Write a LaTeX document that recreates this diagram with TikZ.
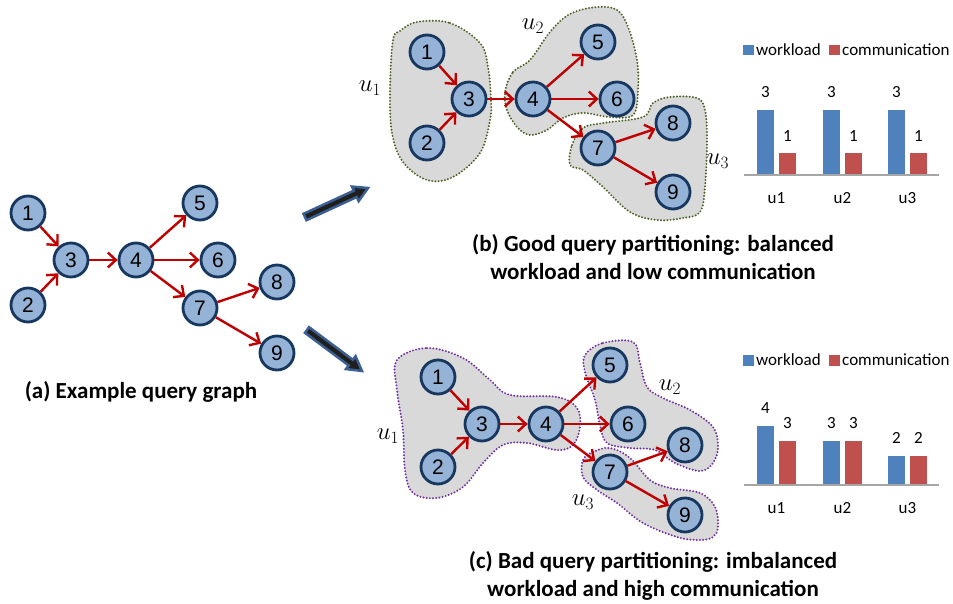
\documentclass[tikz,border=0pt]{standalone}
\usepackage{fontspec}
\setmainfont{Carlito}
\newfontfamily\numfont{Liberation Sans}
\usetikzlibrary{arrows.meta,calc}

\definecolor{nodefill}{RGB}{149,179,215}
\definecolor{nodeline}{RGB}{23,55,94}
\definecolor{edgered}{RGB}{192,0,0}
\definecolor{blobgray}{RGB}{217,217,217}
\definecolor{blobolive}{RGB}{79,98,40}
\definecolor{blobviolet}{RGB}{112,48,160}
\definecolor{barblue}{RGB}{79,129,189}
\definecolor{barred}{RGB}{192,80,77}
\definecolor{arrowblue}{RGB}{59,95,145}
\definecolor{axisgray}{RGB}{166,166,166}

\tikzset{
  qnode/.style={circle, draw=nodeline, fill=nodefill, line width=2.8pt,
    minimum size=34pt, inner sep=0pt, font=\numfont\fontsize{21}{21}\selectfont},
  qedge/.style={draw=edgered, line width=2.4pt,
    -{Straight Barb[length=8pt,width=15pt]}},
  blobline/.style={fill=blobgray, line width=2.2pt, line cap=round,
    dash pattern=on 0pt off 3.2pt},
  partlabel/.style={font=\fontsize{24}{24}\selectfont},
  caption/.style={font=\bfseries\fontsize{23}{28}\selectfont, align=center},
  chartfont/.style={font=\fontsize{17}{17}\selectfont},
  fatarrow/.style={fill=black!88, draw=arrowblue, line width=2.5pt, line join=miter},
  axisline/.style={draw=axisgray, line width=1.5pt},
}

% edges shared by every copy of the query graph
\newcommand\queryedges[1]{%
  \draw[qedge] (#11) -- (#13);
  \draw[qedge] (#12) -- (#13);
  \draw[qedge] (#13) -- (#14);
  \draw[qedge] (#14) -- (#15);
  \draw[qedge] (#14) -- (#16);
  \draw[qedge] (#14) -- (#17);
  \draw[qedge] (#17) -- (#18);
  \draw[qedge] (#17) -- (#19);
}

% broad outlined arrow from tail #1 to tip #2 (coordinate names)
\newcommand\broadarrow[2]{%
  \coordinate (#2m) at ($(#2)!14pt!(#1)$);
  \draw[fatarrow]
    ($(#1)!3.5pt!90:(#2)$) -- ($(#2m)!3.5pt!90:(#2)$) --
    ($(#2m)!8pt!90:(#2)$) -- (#2) -- ($(#2m)!8pt!-90:(#2)$) --
    ($(#2m)!3.5pt!-90:(#2)$) -- ($(#1)!3.5pt!-90:(#2)$) -- cycle;
}

\begin{document}
\begin{tikzpicture}[x=1pt,y=-1pt]
\path[use as bounding box] (0,0) rectangle (953,604);

%% ---------- (a) the query graph ----------
\node[qnode] (a1) at (28,213) {1};
\node[qnode] (a2) at (28,305) {2};
\node[qnode] (a3) at (71,260) {3};
\node[qnode] (a4) at (136,260) {4};
\node[qnode] (a5) at (200,203) {5};
\node[qnode] (a6) at (218,260) {6};
\node[qnode] (a7) at (200,308) {7};
\node[qnode] (a8) at (277,282) {8};
\node[qnode] (a9) at (277,353) {9};
\queryedges{a}
\node[caption] (capa) at (141,392) {(a) Example query graph};

%% ---------- arrows to the two partitionings ----------
\coordinate (t1) at (305,217);
\coordinate (h1) at (368,188);
\coordinate (t2) at (307,330);
\coordinate (h2) at (362,371);
\broadarrow{t1}{h1}
\broadarrow{t2}{h2}

%% ---------- (b) good partitioning ----------
\path[blobline, draw=blobolive] plot[smooth cycle, tension=0.6] coordinates {
  (417,22) (450,23) (480,43) (488,67) (491,100) (490,120) (480,153)
  (453,177) (427,180) (403,162) (392,133) (390,90) (393,40) (400,31)};
\path[blobline, draw=blobolive] plot[smooth cycle, tension=0.6] coordinates {
  (505,92) (513,72) (530,60) (550,32) (570,14) (597,7) (617,10) (628,27)
  (637,60) (638,90) (633,115) (610,117) (583,113) (563,118) (547,130)
  (530,135) (517,127) (507,110)};
\path[blobline, draw=blobolive] plot[smooth cycle, tension=0.6] coordinates {
  (570,165) (572,145) (583,128) (603,123) (643,117) (653,103) (670,97)
  (697,98) (705,110) (707,140) (705,187) (700,212) (683,218) (657,220)
  (630,212) (603,187) (583,170)};

\node[qnode] (b1) at (427,52) {1};
\node[qnode] (b2) at (427,143) {2};
\node[qnode] (b3) at (469,99) {3};
\node[qnode] (b4) at (533,99) {4};
\node[qnode] (b5) at (598,42) {5};
\node[qnode] (b6) at (617,99) {6};
\node[qnode] (b7) at (598,148) {7};
\node[qnode] (b8) at (673,123) {8};
\node[qnode] (b9) at (673,192) {9};
\queryedges{b}

\node[partlabel] (bu1) at (370,88) {$u_1$};
\node[partlabel] (bu2) at (533,26) {$u_2$};
\node[partlabel] (bu3) at (718,161) {$u_3$};

\node[caption] (capb) at (653,257) {(b) Good query partitioning: balanced\\workload and low communication};

%% ---------- (c) bad partitioning ----------
\path[blobline, draw=blobviolet] plot[smooth cycle, tension=0.6] coordinates {
  (397,360) (427,348) (463,358) (490,380) (510,395) (557,397) (577,408)
  (580,427) (573,445) (557,450) (527,443) (503,445) (483,463) (463,487)
  (437,498) (413,493) (405,470) (403,430) (397,390)};
\path[blobline, draw=blobviolet] plot[smooth cycle, tension=0.6] coordinates {
  (585,355) (603,343) (633,342) (640,363) (647,387) (663,398) (690,410)
  (713,427) (718,447) (713,463) (700,471) (675,463) (655,450) (630,448)
  (607,443) (600,425) (595,400) (585,372)};
\path[blobline, draw=blobviolet] plot[smooth cycle, tension=0.6] coordinates {
  (583,460) (593,452) (610,448) (630,458) (650,480) (670,488) (700,493)
  (715,507) (718,527) (713,537) (700,540) (677,537) (643,523) (617,503)
  (597,490) (583,477)};

\node[qnode] (c1) at (438,377) {1};
\node[qnode] (c2) at (438,467) {2};
\node[qnode] (c3) at (482,424) {3};
\node[qnode] (c4) at (546,424) {4};
\node[qnode] (c5) at (610,365) {5};
\node[qnode] (c6) at (628,424) {6};
\node[qnode] (c7) at (610,472) {7};
\node[qnode] (c8) at (685,445) {8};
\node[qnode] (c9) at (685,515) {9};
\queryedges{c}

\node[partlabel] (cu1) at (388,436) {$u_1$};
\node[partlabel] (cu2) at (670,387) {$u_2$};
\node[partlabel] (cu3) at (583,502) {$u_3$};

\node[caption] (capc) at (653,576) {(c) Bad query partitioning: imbalanced\\workload and high communication};

%% ---------- bar chart for (b) ----------
\begin{scope}[chartfont]
  \fill[barblue] (743,45) rectangle ++(10.5,10.5);
  \node[anchor=west, inner sep=0pt] (lbw) at (756,50) {workload};
  \fill[barred] (829,45) rectangle ++(10.5,10.5);
  \node[anchor=west, inner sep=0pt] (lbc) at (842,50) {communication};
  \foreach \x/\w/\c [count=\i] in {757/3/1, 823/3/1, 888/3/1} {
    \fill[barblue] (\x,175) rectangle ++(17,-21.7*\w);
    \fill[barred] (\x+22,175) rectangle ++(17,-21.7*\c);
    \node (bw\i) at (\x+8.5,175-21.7*\w-18) {\w};
    \node (bc\i) at (\x+30.5,175-21.7*\c-17) {\c};
    \node (bx\i) at (\x+19.5,198) {u\i};
  }
  \draw[axisline] (744,175) -- (939,175);
\end{scope}

%% ---------- bar chart for (c) ----------
\begin{scope}[chartfont]
  \fill[barblue] (743,355) rectangle ++(10.5,10.5);
  \node[anchor=west, inner sep=0pt] (lcw) at (756,360) {workload};
  \fill[barred] (829,355) rectangle ++(10.5,10.5);
  \node[anchor=west, inner sep=0pt] (lcc) at (842,360) {communication};
  \foreach \x/\w/\c [count=\i] in {757/4/3, 823/3/3, 888/2/2} {
    \fill[barblue] (\x,485) rectangle ++(17,-14.7*\w);
    \fill[barred] (\x+22,485) rectangle ++(17,-14.7*\c);
    \node (cw\i) at (\x+8.5,485-14.7*\w-18) {\w};
    \node (cc\i) at (\x+30.5,485-14.7*\c-18) {\c};
    \node (cx\i) at (\x+19.5,508) {u\i};
  }
  \draw[axisline] (744,485) -- (939,485);
\end{scope}
\end{tikzpicture}
\end{document}
